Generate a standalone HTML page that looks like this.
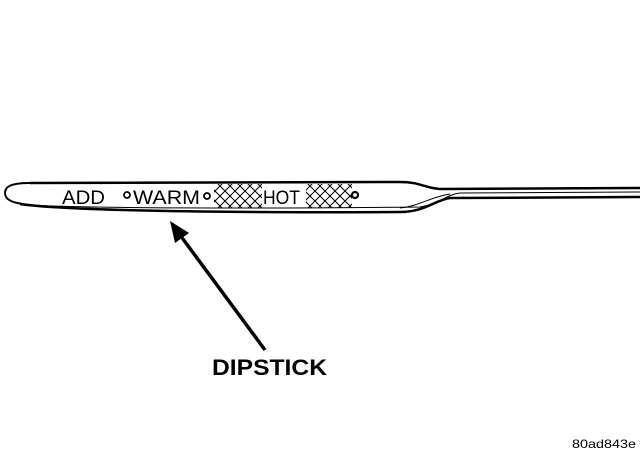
<!DOCTYPE html>
<html><head><style>body{margin:0;background:#fff}svg{display:block}</style></head>
<body>
<svg width="640" height="457" viewBox="0 0 640 457" xmlns="http://www.w3.org/2000/svg">
<defs>
<pattern id="h" width="10" height="10" patternUnits="userSpaceOnUse" patternTransform="translate(0,186)">
<path d="M0 0L10 10M10 0L0 10" stroke="#000" stroke-width="1"/>
</pattern>
</defs>
<rect x="214" y="184" width="48" height="24" fill="url(#h)"/>
<rect x="306" y="184" width="46" height="24" fill="url(#h)"/>
<g fill="none" stroke="#000">
<path d="M30 183 L400 182 C420 182 425 188 440 189 L640 188" stroke-width="2.5"/>
<path d="M30 183 C10 183 5 187 5 193 C5 200 12 203 30 205" stroke-width="2"/>
<path d="M20 204 C60 210 200 213 400 212 C425 212 435 200 450 198 L640 197" stroke-width="2.5"/>
<path d="M30 205 C80 208 250 209 420 207 C440 204 445 195 460 193 L640 192" stroke-width="1"/>
<path d="M400 208 C420 206 430 197 450 194" stroke-width="1"/>
<circle cx="127" cy="195" r="3" stroke-width="1.8"/>
<circle cx="207" cy="196" r="3" stroke-width="1.8"/>
<circle cx="355" cy="195" r="3" stroke-width="2.2"/>
<line x1="265" y1="350" x2="180" y2="235" stroke-width="3.5"/>
</g>
<polygon points="170,221 189,233 175,243" fill="#000"/>
<g font-family="Liberation Sans, sans-serif" fill="#000">
<text x="62" y="204" font-size="19" textLength="43" lengthAdjust="spacingAndGlyphs">ADD</text>
<text x="133" y="204" font-size="19" textLength="67" lengthAdjust="spacingAndGlyphs">WARM</text>
<text x="263" y="204" font-size="19" textLength="37" lengthAdjust="spacingAndGlyphs">HOT</text>
<text x="212" y="375" font-size="22" font-weight="bold" textLength="115" lengthAdjust="spacingAndGlyphs">DIPSTICK</text>
<text x="572" y="448" font-size="12" textLength="64" lengthAdjust="spacingAndGlyphs">80ad843e</text>
</g>
</svg>
</body></html>
